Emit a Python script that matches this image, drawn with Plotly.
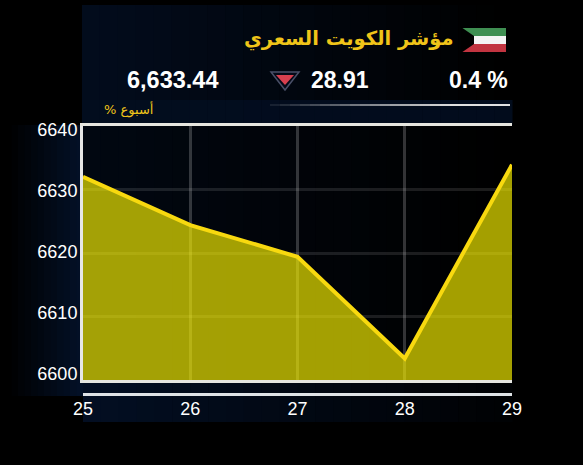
"""Kuwait price index weekly chart."""
import plotly.graph_objects as go

DAYS = [25, 26, 27, 28, 29]
INDEX_VALUES = [6632.0, 6624.4, 6619.4, 6603.4, 6633.9]
Y_TICKS = [6600, 6610, 6620, 6630, 6640]

TITLE = "مؤشر الكويت السعري"
LAST_VALUE = "6,633.44"
CHANGE = "28.91"
CHANGE_PCT = "0.4 %"
PERIOD = "أسبوع %\u200f"

GOLD = "#f0c419"
NAVY = (3, 16, 38)
W, H = 583, 465
LEFT, RIGHT, TOP, BOTTOM = 83, 512, 126, 380


def px(x):
    return (x - LEFT) / (RIGHT - LEFT)


def py(y):
    return (BOTTOM - y) / (BOTTOM - TOP)


def rect(x0, y0, x1, y1, color, layer="below"):
    return dict(type="rect", xref="paper", yref="paper", x0=px(x0), x1=px(x1), y0=py(y0), y1=py(y1),
                fillcolor=color, line_width=0, layer=layer)


def poly(points, fill, line=None, width=0):
    path = "M" + " L".join(f"{px(x)},{py(y)}" for x, y in points) + " Z"
    return dict(type="path", xref="paper", yref="paper", path=path, fillcolor=fill,
                line=dict(color=line or "rgba(0,0,0,0)", width=width), layer="above")


def fade(x0, x1, y0, y1, start, end, steps=24):
    """Horizontal navy-to-black fade built from thin strips."""
    out = []
    for i in range(steps):
        t = start + (end - start) * i / (steps - 1)
        color = "rgb({},{},{})".format(*[round(c * t) for c in NAVY])
        a = x0 + (x1 - x0) * i / steps
        b = x0 + (x1 - x0) * (i + 1) / steps
        out.append(rect(a, y0, b + 0.5, y1, color))
    return out


def label(x, y, text, size, color="white", anchor="center", family="Liberation Sans", bold=True):
    return dict(xref="paper", yref="paper", x=px(x), y=py(y), xanchor=anchor, yanchor="middle",
                text=f"<b>{text}</b>" if bold else text, showarrow=False,
                font=dict(family=family, size=size, color=color))


shapes = []
shapes += fade(82, 512, 5, 100, 0.75, 0.0)
shapes += fade(82, 512, 100, 125, 0.8, 0.75)
shapes += fade(5, 83, 125, 396, 0.0, 1.0, steps=12)
shapes += fade(83, 512, 126, 380, 0.45, 0.0)
shapes += fade(83, 512, 381, 422, 0.9, 0.1)
shapes.append(rect(83, 393, 512, 396, "#dfe3e6", layer="above"))
shapes += [rect(270 + i * 10, 104, 280 + i * 10, 106, f"rgba(225,225,225,{min(1, 0.1 + i * 0.05)})", layer="above")
           for i in range(24)]

# flag
shapes += [
    rect(462, 28, 506, 36, "#3f8f52", layer="above"),
    rect(462, 36, 506, 44, "#f4f4f4", layer="above"),
    rect(462, 44, 506, 52, "#c23440", layer="above"),
    poly([(461, 27), (474, 36), (474, 44), (461, 53)], "#000000"),
]
# down arrow
shapes += [
    poly([(271, 72), (299, 72), (285, 90)], "#050a18", line="#4a5068", width=1.5),
    poly([(276, 75), (294, 75), (285, 85)], "#d8404f"),
]

fig = go.Figure()
fig.add_trace(go.Scatter(
    x=DAYS, y=INDEX_VALUES, mode="lines", fill="tozeroy",
    fillcolor="rgba(255,247,0,0.645)", line=dict(color="#f8d90f", width=4),
    hoverinfo="skip", showlegend=False,
))
# the printed tick labels sit a little tighter than the gridlines
fig.add_trace(go.Scatter(
    x=DAYS[:1], y=Y_TICKS[:1], yaxis="y2", mode="markers", opacity=0,
    hoverinfo="skip", showlegend=False,
))
fig.update_layout(
    width=W, height=H, autosize=False,
    margin=dict(l=LEFT, r=W - RIGHT, t=TOP, b=H - BOTTOM, pad=0),
    paper_bgcolor="#000000", plot_bgcolor="rgba(0,0,0,0)",
    font=dict(family="Liberation Sans", color="white", size=18),
    xaxis=dict(
        range=[25, 29], tickvals=DAYS, showline=True, mirror=True, linecolor="#e6e6e0", linewidth=3,
        gridcolor="rgba(255,255,255,0.2)", gridwidth=3, zeroline=False,
        ticks="outside", ticklen=10, tickcolor="rgba(0,0,0,0)",
        tickfont=dict(size=18, color="white"),
    ),
    yaxis=dict(
        range=[6600, 6640], tickvals=Y_TICKS, showticklabels=False,
        showline=True, linecolor="#e6e6e6", linewidth=3,
        gridcolor="rgba(255,255,255,0.11)", gridwidth=3, zeroline=False,
    ),
    yaxis2=dict(
        range=[6599.02, 6640.66], overlaying="y", side="left", tickvals=Y_TICKS,
        showgrid=False, zeroline=False, showline=False,
        ticks="outside", ticklen=1, tickcolor="rgba(0,0,0,0)",
        tickfont=dict(size=18, color="white"),
    ),
    shapes=shapes,
    annotations=[
        label(456, 39, TITLE, 19.5, color=GOLD, anchor="right", family="DejaVu Sans"),
        label(510, 80, CHANGE_PCT, 23, anchor="right"),
        label(340, 80, CHANGE, 23),
        label(220, 80, LAST_VALUE, 23.5, anchor="right"),
        label(128, 110, PERIOD, 13, color=GOLD, family="DejaVu Sans", bold=False),
    ],
)

fig.write_html("out.html", config=dict(displayModeBar=False),
               post_script="document.body.style.margin='0';document.body.style.background='#000';")
